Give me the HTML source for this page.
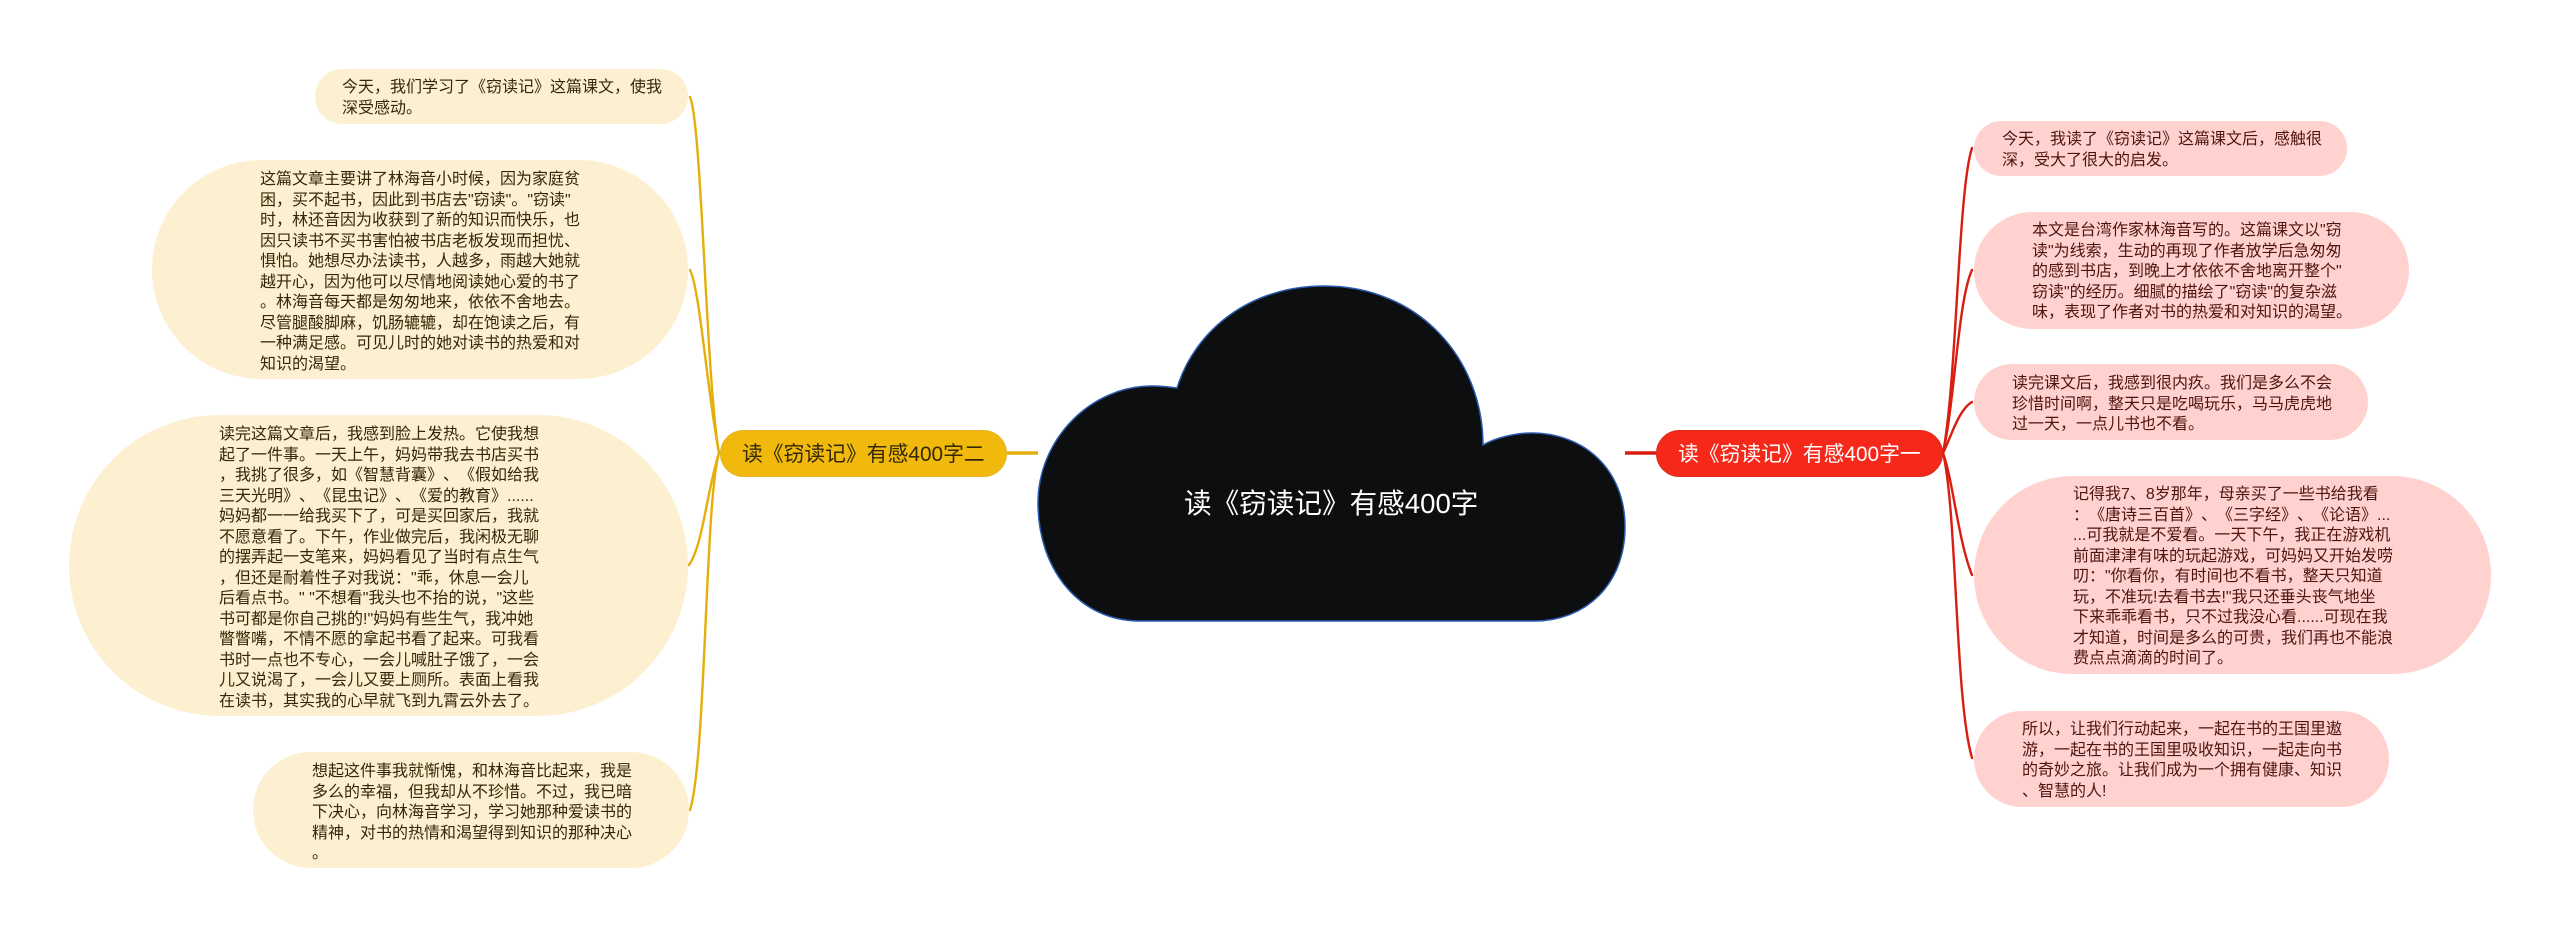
<!DOCTYPE html>
<html lang="zh">
<head>
<meta charset="utf-8">
<title>读《窃读记》有感400字</title>
<style>
html,body{margin:0;padding:0;background:#fff;width:2560px;height:938px;overflow:hidden}
body{position:relative;font-family:"Liberation Sans","Noto Sans CJK SC",sans-serif;text-spacing-trim:space-all;font-kerning:none}
svg{position:absolute;left:0;top:0}
.n{position:absolute;border-radius:999px}
.c{background:#fdf0d0}
.p{background:#ffd2cf}
.t{position:absolute;font-size:16px;line-height:20.5px;white-space:pre;margin-top:2px}
.l{color:#332808}
.r{color:#501410}
.b{position:absolute;top:430px;height:47px;line-height:47px;border-radius:24px;font-size:20.8px;box-sizing:border-box;white-space:pre}
</style>
</head>
<body>
<svg width="2560" height="938" viewBox="0 0 2560 938" fill="none">
  <g stroke="#e6ae0a" stroke-width="2.4" stroke-linecap="round">
    <path d="M690 97C702 125 706 380 719 453"/>
    <path d="M690 270C700 290 707 390 719 453"/>
    <path d="M689 565C703 545 707 490 719 453"/>
    <path d="M690 810C706 760 705 500 719 453"/>
  </g>
  <g stroke="#d81e10" stroke-width="2.4" stroke-linecap="round">
    <path d="M1972 148C1958 190 1957 380 1943 453"/>
    <path d="M1972 270C1958 300 1955 400 1943 453"/>
    <path d="M1972 402C1958 410 1950 440 1943 453"/>
    <path d="M1972 575C1958 540 1953 480 1943 453"/>
    <path d="M1972 758C1955 700 1957 510 1943 453"/>
  </g>
  <path d="M1007 453H1038" stroke="#e6ae0a" stroke-width="3.5"/>
  <path d="M1625 453H1656" stroke="#d81e10" stroke-width="3.5"/>
  <path d="M1139 621C1080 621 1038 570 1038 503C1038 440 1090 386 1152 386C1162 386 1170 387 1177 388C1195 330 1250 286 1324 286C1420 286 1483 360 1483 445C1495 438 1515 433 1531 433C1585 433 1625 470 1625 527C1625 585 1585 621 1535 621Z" fill="#0d0e10" stroke="#2a5db0" stroke-width="1.5"/>
</svg>

<div style="position:absolute;left:1184px;top:484px;height:40px;line-height:40px;font-size:27.6px;color:#fff;white-space:pre">读《窃读记》有感400字</div>

<div class="b" style="left:720px;width:287px;background:#f0b90b;border:1px solid #e6b422;padding-left:21px;color:#332808">读《窃读记》有感400字二</div>
<div class="b" style="left:1656px;width:287px;background:#f5281a;border:1px solid #dc2a1c;padding-left:21px;color:#fff">读《窃读记》有感400字一</div>

<div class="n c" style="left:315px;top:69px;width:373px;height:55px"></div>
<div class="t l" style="left:342px;top:76px">今天，我们学习了《窃读记》这篇课文，使我
深受感动。</div>

<div class="n c" style="left:152px;top:160px;width:536px;height:219px"></div>
<div class="t l" style="left:260px;top:168px">这篇文章主要讲了林海音小时候，因为家庭贫
困，买不起书，因此到书店去"窃读"。"窃读"
时，林还音因为收获到了新的知识而快乐，也
因只读书不买书害怕被书店老板发现而担忧、
惧怕。她想尽办法读书，人越多，雨越大她就
越开心，因为他可以尽情地阅读她心爱的书了
。林海音每天都是匆匆地来，依依不舍地去。
尽管腿酸脚麻，饥肠辘辘，却在饱读之后，有
一种满足感。可见儿时的她对读书的热爱和对
知识的渴望。</div>

<div class="n c" style="left:69px;top:415px;width:619px;height:301px"></div>
<div class="t l" style="left:219px;top:423px">读完这篇文章后，我感到脸上发热。它使我想
起了一件事。一天上午，妈妈带我去书店买书
，我挑了很多，如《智慧背囊》、《假如给我
三天光明》、《昆虫记》、《爱的教育》......
妈妈都一一给我买下了，可是买回家后，我就
不愿意看了。下午，作业做完后，我闲极无聊
的摆弄起一支笔来，妈妈看见了当时有点生气
，但还是耐着性子对我说："乖，休息一会儿
后看点书。" "不想看"我头也不抬的说，"这些
书可都是你自己挑的!"妈妈有些生气，我冲她
瞥瞥嘴，不情不愿的拿起书看了起来。可我看
书时一点也不专心，一会儿喊肚子饿了，一会
儿又说渴了，一会儿又要上厕所。表面上看我
在读书，其实我的心早就飞到九霄云外去了。</div>

<div class="n c" style="left:253px;top:752px;width:436px;height:116px"></div>
<div class="t l" style="left:312px;top:760px">想起这件事我就惭愧，和林海音比起来，我是
多么的幸福，但我却从不珍惜。不过，我已暗
下决心，向林海音学习，学习她那种爱读书的
精神，对书的热情和渴望得到知识的那种决心
。</div>

<div class="n p" style="left:1974px;top:121px;width:373px;height:55px"></div>
<div class="t r" style="left:2002px;top:128px">今天，我读了《窃读记》这篇课文后，感触很
深，受大了很大的启发。</div>

<div class="n p" style="left:1974px;top:212px;width:435px;height:117px"></div>
<div class="t r" style="left:2032px;top:219px">本文是台湾作家林海音写的。这篇课文以"窃
读"为线索，生动的再现了作者放学后急匆匆
的感到书店，到晚上才依依不舍地离开整个"
窃读"的经历。细腻的描绘了"窃读"的复杂滋
味，表现了作者对书的热爱和对知识的渴望。</div>

<div class="n p" style="left:1974px;top:364px;width:394px;height:76px"></div>
<div class="t r" style="left:2012px;top:372px">读完课文后，我感到很内疚。我们是多么不会
珍惜时间啊，整天只是吃喝玩乐，马马虎虎地
过一天，一点儿书也不看。</div>

<div class="n p" style="left:1974px;top:476px;width:517px;height:198px"></div>
<div class="t r" style="left:2073px;top:483px">记得我7、8岁那年，母亲买了一些书给我看
：《唐诗三百首》、《三字经》、《论语》...
...可我就是不爱看。一天下午，我正在游戏机
前面津津有味的玩起游戏，可妈妈又开始发唠
叨："你看你，有时间也不看书，整天只知道
玩，不准玩!去看书去!"我只还垂头丧气地坐
下来乖乖看书，只不过我没心看......可现在我
才知道，时间是多么的可贵，我们再也不能浪
费点点滴滴的时间了。</div>

<div class="n p" style="left:1974px;top:711px;width:415px;height:96px"></div>
<div class="t r" style="left:2022px;top:718px">所以，让我们行动起来，一起在书的王国里遨
游，一起在书的王国里吸收知识，一起走向书
的奇妙之旅。让我们成为一个拥有健康、知识
、智慧的人!</div>
</body>
</html>
